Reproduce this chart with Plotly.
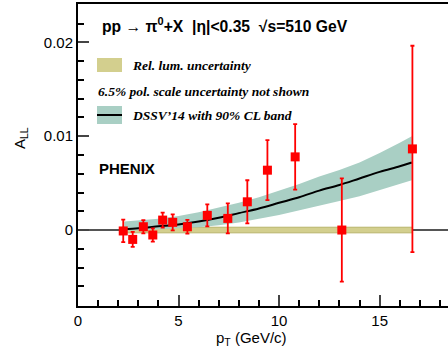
import plotly.graph_objects as go

# Data: PHENIX pi0 A_LL at sqrt(s)=510 GeV
pt = [2.25, 2.72, 3.25, 3.72, 4.21, 4.71, 5.44, 6.43, 7.45, 8.42, 9.42, 10.8, 13.12, 16.63]
all_vals = [-0.0001, -0.0010, 0.00035, -0.00053, 0.00106, 0.00082, 0.00035, 0.00156, 0.00124, 0.00301, 0.00638, 0.0078, 0.0, 0.00865]
all_err = [0.0012, 0.0008, 0.0007, 0.0007, 0.0008, 0.00085, 0.00073, 0.00117, 0.0016, 0.0023, 0.0032, 0.0035, 0.0055, 0.0110]

# DSSV'14 theory curve with 90% CL band
th_x = [2.3, 3, 4, 5, 6, 7, 8, 9, 10, 11, 12, 13, 14, 15, 16, 16.6]
th_y = [0.0001, 0.0002, 0.0004, 0.0006, 0.0009, 0.0013, 0.0018, 0.0023, 0.0029, 0.0035, 0.0042, 0.0048, 0.0055, 0.0062, 0.0068, 0.0072]
th_hi = [0.0009, 0.0010, 0.0012, 0.0015, 0.0019, 0.0024, 0.0029, 0.0035, 0.0042, 0.0049, 0.0057, 0.0064, 0.0072, 0.0082, 0.0093, 0.0100]
th_lo = [-0.0001, 0.0000, 0.0001, 0.0002, 0.0003, 0.0005, 0.0008, 0.0012, 0.0016, 0.0021, 0.0026, 0.0031, 0.0036, 0.0042, 0.0049, 0.0053]

# Relative luminosity uncertainty band
lum_x = [2.2, 16.63]
lum_unc = 0.0003

x_ticks = [0, 5, 10, 15]
y_ticks = [0, 0.01, 0.02]
y_tick_text = ["0", "0.01", "0.02"]

RED = "#ff0000"
TEAL = "#a9cfc4"
OLIVE = "#d3cf8e"

W, H = 448, 349
ML, MR, MT, MB = 78, 0, 4, 43
PW, PH = W - ML - MR, H - MT - MB

def px(x, y):
    """pixel position in the window -> paper (plot-area) coords"""
    return (x - ML) / PW, 1 - (y - MT) / PH

fig = go.Figure()

# lum band
fig.add_trace(go.Scatter(x=lum_x + lum_x[::-1], y=[lum_unc, lum_unc, -lum_unc, -lum_unc],
                         fill="toself", fillcolor=OLIVE, line=dict(color="#b8b46a", width=1),
                         mode="lines", hoverinfo="skip", showlegend=False))
# theory band
fig.add_trace(go.Scatter(x=th_x + th_x[::-1], y=th_hi + th_lo[::-1], fill="toself",
                         fillcolor=TEAL, line=dict(width=0), mode="lines",
                         hoverinfo="skip", showlegend=False))
fig.add_trace(go.Scatter(x=th_x, y=th_y, mode="lines", line=dict(color="black", width=2),
                         showlegend=False, line_shape="spline"))
# data
fig.add_trace(go.Scatter(x=pt, y=all_vals, mode="markers",
                         marker=dict(symbol="square", size=9, color=RED),
                         error_y=dict(type="data", array=all_err, color=RED, thickness=1.8, width=2),
                         showlegend=False))

font_sans = "Liberation Sans, Arial, sans-serif"
font_serif = "Liberation Serif, Times New Roman, serif"

fig.update_layout(
    width=W, height=H,
    margin=dict(l=ML, r=MR, t=MT, b=MB),
    plot_bgcolor="white", paper_bgcolor="white",
    font=dict(family=font_sans, size=14, color="black"),
    xaxis=dict(range=[0, 18.4], tickvals=x_ticks, ticks="inside", ticklen=11, tickwidth=1.5,
               showline=True, linewidth=2, linecolor="black", mirror=True, showgrid=False,
               zeroline=False, tickfont=dict(size=15),
               minor=dict(dtick=1, ticks="inside", ticklen=6, tickwidth=1.5, tickcolor="black")),
    yaxis=dict(range=[-0.0081, 0.0241], tickvals=y_ticks, ticktext=y_tick_text, ticks="inside",
               ticklen=11, tickwidth=1.5, showline=True, linewidth=2, linecolor="black",
               showgrid=False, zeroline=True, zerolinecolor="#555555", zerolinewidth=1.5,
               tickfont=dict(size=15),
               minor=dict(dtick=0.002, ticks="inside", ticklen=6, tickwidth=1.5, tickcolor="black")),
)

anns = [
    dict(x=100, y=25, text="<b>pp → π<sup>0</sup>+X  |η|<0.35  √s=510 GeV</b>", size=15.7, fam=font_sans),
    dict(x=130, y=66, text="<b><i>Rel. lum. uncertainty</i></b>", size=13.5, fam=font_serif),
    dict(x=96, y=91, text="<b><i>6.5% pol. scale uncertainty not shown</i></b>", size=13.5, fam=font_serif),
    dict(x=130, y=115, text="<b><i>DSSV’14 with 90% CL band</i></b>", size=13.5, fam=font_serif),
    dict(x=97, y=168, text="<b>PHENIX</b>", size=15, fam=font_sans),
]
for a in anns:
    xx, yy = px(a["x"], a["y"])
    fig.add_annotation(x=xx, y=yy, xref="paper", yref="paper",
                       xanchor="left", yanchor="middle", text=a["text"], showarrow=False,
                       font=dict(size=a["size"], family=a["fam"], color="black"))

# axis titles
xx, yy = px(251, 338)
fig.add_annotation(x=xx, y=yy, xref="paper", yref="paper", xanchor="center",
                   yanchor="middle", text="p<sub>T</sub> (GeV/c)", showarrow=False,
                   font=dict(size=15, family=font_sans))
xx, yy = px(20, 138)
fig.add_annotation(x=xx, y=yy, xref="paper", yref="paper", xanchor="center",
                   yanchor="middle", text="A<sub>LL</sub>", textangle=-90, showarrow=False,
                   font=dict(size=15, family=font_sans))

# legend swatches (legend decoration)
x0, y0 = px(97, 58); x1, y1 = px(122, 72)
fig.add_shape(type="rect", xref="paper", yref="paper", x0=x0, y0=y0, x1=x1, y1=y1,
              fillcolor=OLIVE, line=dict(width=0))
x0, y0 = px(97, 106); x1, y1 = px(122, 124)
fig.add_shape(type="rect", xref="paper", yref="paper", x0=x0, y0=y0, x1=x1, y1=y1,
              fillcolor=TEAL, line=dict(width=0))
xa, ya = px(97, 115); xb, _ = px(122, 115)
fig.add_shape(type="line", xref="paper", yref="paper", x0=xa, y0=ya, x1=xb, y1=ya,
              line=dict(color="black", width=2))

fig.write_html("out.html")
